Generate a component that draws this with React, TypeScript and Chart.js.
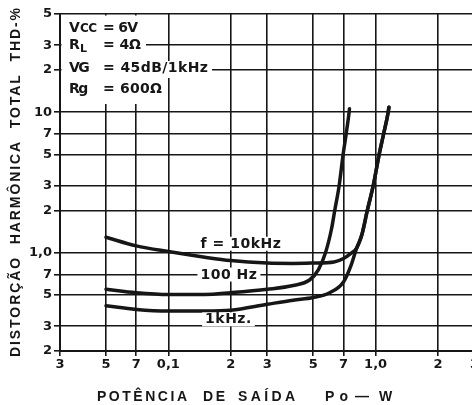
import React, { useEffect, useRef } from "react";
import { Chart, registerables } from "chart.js";

Chart.register(...registerables);

// ---- data (Po in W, THD in %) ----
const P_10KHZ = [0.05, 0.07, 0.1, 0.15, 0.2, 0.3, 0.4, 0.5, 0.63, 0.7, 0.76, 0.81, 0.859, 0.912, 0.974, 1.04, 1.093, 1.15, 1.159];
const THD_10KHZ = [1.29, 1.12, 1.02, 0.93, 0.88, 0.845, 0.84, 0.845, 0.86, 0.91, 0.99, 1.08, 1.35, 2.0, 3.0, 5.0, 7.0, 10.0, 10.85];

const P_100HZ = [0.05, 0.07, 0.1, 0.15, 0.2, 0.3, 0.4, 0.48, 0.53, 0.573, 0.614, 0.635, 0.667, 0.697, 0.721, 0.745, 0.748];
const THD_100HZ = [0.55, 0.52, 0.505, 0.505, 0.52, 0.55, 0.585, 0.64, 0.76, 1.0, 1.5, 2.0, 3.0, 5.0, 7.0, 10.0, 10.6];

const P_1KHZ = [0.05, 0.07, 0.1, 0.15, 0.2, 0.3, 0.4, 0.5, 0.6, 0.7, 0.758, 0.81, 0.859, 0.912, 0.974, 1.04, 1.093, 1.15, 1.159];
const THD_1KHZ = [0.42, 0.395, 0.385, 0.385, 0.39, 0.43, 0.46, 0.48, 0.52, 0.62, 0.8, 1.08, 1.35, 2.0, 3.0, 5.0, 7.0, 10.0, 10.85];

const X_TICKS = [0.03, 0.05, 0.07, 0.1, 0.2, 0.3, 0.5, 0.7, 1, 2, 3];
const X_LABELS = ["3", "5", "7", "0,1", "2", "3", "5", "7", "1,0", "2", "3"];
const Y_TICKS = [0.2, 0.3, 0.5, 0.7, 1, 2, 3, 5, 7, 10, 20, 30, 50];
const Y_LABELS = ["2", "3", "5", "7", "1,0", "2", "3", "5", "7", "10", "2", "3", "5"];

const CURVE_LABELS = [
  { text: "f = 10kHz", x: 0.224, y: 1.16 },
  { text: "100 Hz", x: 0.196, y: 0.7 },
  { text: "1kHz.", x: 0.195, y: 0.336 },
];

const Y_TITLE = "DISTORÇÃO  HARMÔNICA  TOTAL  THD-%";

const FONT = '"DejaVu Sans", sans-serif';
const TITLE_FONT = '"Liberation Sans", Arial, sans-serif';
const INK = "#161616";

function fit(ctx: CanvasRenderingContext2D, text: string, x0: number, x1: number, y: number) {
  const c: any = ctx;
  c.letterSpacing = "0px";
  const w = ctx.measureText(text).width;
  const n = Array.from(text).length;
  const sp = n > 1 ? (x1 - x0 - w) / (n - 1) : 0;
  c.letterSpacing = `${Math.max(sp, -1.5)}px`;
  ctx.textAlign = "left";
  ctx.fillText(text, x0, y);
  c.letterSpacing = "0px";
}

const annotPlugin = {
  id: "annot",
  afterDraw(chart: any) {
    const ctx: CanvasRenderingContext2D = chart.ctx;
    const xs = chart.scales.x;
    const ys = chart.scales.y;
    const L = chart.chartArea.left;
    const T = chart.chartArea.top;
    ctx.save();
    ctx.textBaseline = "middle";

    // white patches behind the parameter block
    ctx.fillStyle = "#fff";
    const patches = [
      [L + 1.5, T + 1.5, 155, 36],
      [L + 1.5, 36, 146, 53],
      [L + 1.5, 53, 156, 82],
      [156, 61, 212, 78],
      [L + 1.5, 82, 168, 104],
    ];
    for (const [a, b, c, d] of patches) ctx.fillRect(a, b, c - a, d - b);

    ctx.fillStyle = INK;
    // parameter block
    ctx.font = `bold 14px ${FONT}`;
    ctx.fillText("V", 69, 28);
    ctx.font = `bold 12px ${FONT}`;
    fit(ctx, "CC", 80, 97, 29);
    ctx.font = `bold 14px ${FONT}`;
    fit(ctx, "= 6V", 103, 138, 28);

    ctx.fillText("R", 69, 45);
    ctx.font = `bold 11px ${FONT}`;
    ctx.fillText("L", 80, 49);
    ctx.font = `bold 14px ${FONT}`;
    fit(ctx, "= 4Ω", 103, 141, 45);

    fit(ctx, "VG", 69, 88, 68);
    fit(ctx, "= 45dB/1kHz", 103, 208, 68);

    fit(ctx, "Rg", 69, 87, 89);
    fit(ctx, "= 600Ω", 103, 162, 89);

    // curve labels
    ctx.font = `bold 14px ${FONT}`;
    for (const lab of CURVE_LABELS) {
      const cx = xs.getPixelForValue(lab.x);
      const cy = ys.getPixelForValue(lab.y);
      (ctx as any).letterSpacing = "0.5px";
      const w = ctx.measureText(lab.text).width;
      ctx.fillStyle = "#fff";
      ctx.fillRect(cx - w / 2 - 3, cy - 7, w + 6, 14);
      ctx.fillStyle = INK;
      ctx.textAlign = "center";
      ctx.fillText(lab.text, cx, cy + 0.5);
      (ctx as any).letterSpacing = "0px";
    }

    // x-axis title
    ctx.font = `bold 14px ${TITLE_FONT}`;
    const xWords: [string, number, number][] = [
      ["POTÊNCIA", 97, 187],
      ["DE", 203, 225],
      ["SAÍDA", 238, 295],
      ["Po", 325, 348],
      ["—", 355, 373],
      ["W", 379, 393],
    ];
    for (const [t, a, b] of xWords) fit(ctx, t, a, b, 397);

    // y-axis title (rotated)
    ctx.font = `bold 14px ${TITLE_FONT}`;
    ctx.save();
    ctx.translate(16, 357);
    ctx.rotate(-Math.PI / 2);
    fit(ctx, Y_TITLE, 0, 349, 0);
    ctx.restore();

    ctx.restore();
  },
};

export default function App() {
  const ref = useRef<HTMLCanvasElement | null>(null);
  useEffect(() => {
    if (!ref.current) return;
    const mk = (xs: number[], ys: number[]) => xs.map((x, i) => ({ x, y: ys[i] }));
    const line = {
      borderColor: INK,
      borderWidth: 3.5,
      pointRadius: 0,
      fill: false,
      cubicInterpolationMode: "monotone" as const,
      borderCapStyle: "round" as const,
    };
    const chart = new Chart(ref.current, {
      type: "line",
      data: {
        datasets: [
          { label: "f = 10 kHz", data: mk(P_10KHZ, THD_10KHZ), ...line },
          { label: "100 Hz", data: mk(P_100HZ, THD_100HZ), ...line },
          { label: "1 kHz", data: mk(P_1KHZ, THD_1KHZ), ...line },
        ],
      },
      options: {
        animation: false,
        responsive: false,
        devicePixelRatio: 1,
        layout: { padding: { top: 14, right: 5, left: 0, bottom: 0 } },
        plugins: { legend: { display: false }, tooltip: { enabled: false } },
        scales: {
          x: {
            type: "logarithmic",
            min: 0.03,
            max: 3,
            afterBuildTicks: (s: any) => {
              s.ticks = X_TICKS.map((v) => ({ value: v }));
            },
            afterFit: (s: any) => {
              s.height = 54;
            },
            ticks: {
              autoSkip: false,
              maxRotation: 0,
              padding: 1,
              color: INK,
              font: { family: FONT, size: 13, weight: "bold" },
              callback: (_v: any, i: number) => X_LABELS[i],
            },
            grid: { color: INK, lineWidth: 1.6, tickLength: 5 },
            border: { color: INK, width: 2 },
          },
          y: {
            type: "logarithmic",
            min: 0.2,
            max: 50,
            afterBuildTicks: (s: any) => {
              s.ticks = Y_TICKS.map((v) => ({ value: v }));
            },
            afterFit: (s: any) => {
              s.width = 60;
            },
            ticks: {
              autoSkip: false,
              padding: 2,
              color: INK,
              font: { family: FONT, size: 13, weight: "bold" },
              callback: (_v: any, i: number) => Y_LABELS[i],
            },
            grid: { color: INK, lineWidth: 1.6, tickLength: 6 },
            border: { color: INK, width: 2 },
          },
        },
      },
      plugins: [annotPlugin],
    });
    return () => chart.destroy();
  }, []);
  return (
    <div style={{ position: "fixed", left: 0, top: 0, width: 472, height: 405, overflow: "hidden", background: "#fff" }}>
      <canvas ref={ref} width={480} height={405} style={{ display: "block" }} />
    </div>
  );
}
